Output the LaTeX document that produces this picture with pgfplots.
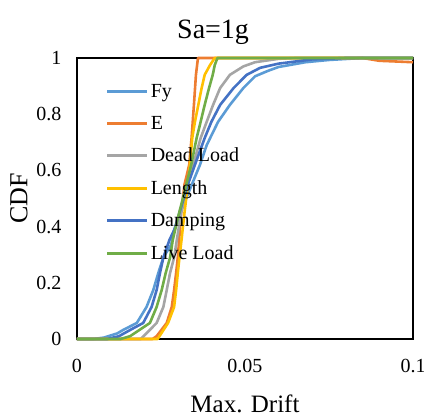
\documentclass[border=0pt]{standalone}
\usepackage{fontspec}
\setmainfont{Liberation Serif}
\usepackage{pgfplots}
\pgfplotsset{compat=1.18}
\definecolor{cFy}{HTML}{5B9BD5}
\definecolor{cE}{HTML}{ED7D31}
\definecolor{cDL}{HTML}{A5A5A5}
\definecolor{cLen}{HTML}{FFC000}
\definecolor{cDamp}{HTML}{4472C4}
\definecolor{cLL}{HTML}{70AD47}
\begin{document}
\begin{tikzpicture}
\begin{axis}[
  scale only axis,
  width=336pt, height=281pt,
  xmin=0, xmax=0.1, ymin=0, ymax=1,
  xtick={0,0.05,0.1}, xticklabels={0,0.05,0.1},
  ytick={0,0.2,0.4,0.6,0.8,1}, yticklabels={0,0.2,0.4,0.6,0.8,1},
  /pgf/number format/assume math mode=true,
  major tick length=0pt,
  axis line style={black, line width=1.2pt},
  tick label style={font=\fontsize{20}{22}\selectfont},
  xticklabel style={yshift=-17pt},
  yticklabel style={xshift=-12pt},
  title={Sa=1g},
  title style={font=\fontsize{28}{30}\selectfont, at={(axis description cs:0.405,1)}, anchor=south, yshift=4pt},
  xlabel={Max. Drift},
  xlabel style={font=\fontsize{25}{27}\selectfont, yshift=-15pt},
  ylabel={CDF},
  ylabel style={font=\fontsize{26}{28}\selectfont, yshift=2pt},
  legend style={draw=none, fill=none, at={(axis description cs:0.085,0.915)}, anchor=north west,
    font=\fontsize{20}{22}\selectfont, row sep=13.4pt, inner sep=0pt,
    /tikz/every even column/.append style={column sep=6pt}},
  legend cell align=left,
  legend image code/.code={\draw[#1, line width=3pt] (0pt,0pt) -- (40pt,0pt);},
  every axis plot/.append style={line width=2.6pt, line join=round},
  clip=false,
]
\addplot[cFy] coordinates {(0,0) (0.005,0) (0.008,0.005) (0.012,0.02) (0.0137,0.032) (0.0178,0.057) (0.0207,0.114) (0.0227,0.174) (0.0242,0.235) (0.0257,0.29) (0.028,0.335) (0.029,0.39) (0.0315,0.47) (0.0335,0.53) (0.0366,0.62) (0.0386,0.69) (0.042,0.773) (0.0455,0.833) (0.0495,0.893) (0.053,0.935) (0.057,0.955) (0.060,0.968) (0.068,0.985) (0.075,0.993) (0.085,1) (0.1,1)};
\addlegendentry{Fy}
\addplot[cE] coordinates {(0,0) (0.0225,0) (0.0237,0.01) (0.0267,0.057) (0.0282,0.114) (0.0289,0.174) (0.0295,0.235) (0.030,0.29) (0.0304,0.352) (0.031,0.45) (0.032,0.55) (0.0334,0.62) (0.0341,0.715) (0.0348,0.833) (0.0354,0.94) (0.036,1) (0.085,1) (0.09,0.99) (0.1,0.985)};
\addlegendentry{E}
\addplot[cDL] coordinates {(0,0) (0.019,0) (0.0237,0.057) (0.0257,0.114) (0.0267,0.174) (0.0277,0.235) (0.0289,0.29) (0.0297,0.352) (0.031,0.45) (0.0325,0.53) (0.0346,0.62) (0.0368,0.715) (0.0386,0.773) (0.0405,0.833) (0.0426,0.893) (0.0455,0.94) (0.0495,0.97) (0.053,0.985) (0.06,0.997) (0.065,1) (0.1,1)};
\addlegendentry{Dead Load}
\addplot[cLen] coordinates {(0,0) (0.024,0) (0.0271,0.057) (0.0289,0.114) (0.0295,0.174) (0.030,0.235) (0.0305,0.29) (0.0311,0.352) (0.032,0.45) (0.033,0.55) (0.0336,0.62) (0.0343,0.715) (0.0351,0.773) (0.0361,0.833) (0.0371,0.893) (0.038,0.94) (0.0396,0.975) (0.041,1) (0.1,1)};
\addlegendentry{Length}
\addplot[cDamp] coordinates {(0,0) (0.009,0) (0.0125,0.01) (0.0158,0.032) (0.0197,0.057) (0.0222,0.114) (0.0237,0.174) (0.0247,0.235) (0.0257,0.29) (0.0275,0.352) (0.029,0.39) (0.031,0.47) (0.033,0.55) (0.0351,0.62) (0.038,0.715) (0.040,0.773) (0.0426,0.833) (0.0466,0.893) (0.0505,0.94) (0.0545,0.965) (0.060,0.98) (0.070,0.995) (0.08,1) (0.1,1)};
\addlegendentry{Damping}
\addplot[cLL] coordinates {(0,0) (0.013,0) (0.0158,0.01) (0.0217,0.057) (0.0237,0.114) (0.0252,0.174) (0.0264,0.235) (0.0277,0.29) (0.0285,0.352) (0.030,0.43) (0.0315,0.50) (0.034,0.62) (0.0356,0.715) (0.0368,0.773) (0.038,0.833) (0.0393,0.893) (0.0404,0.94) (0.041,0.975) (0.0418,1) (0.1,1)};
\addlegendentry{Live Load}
\end{axis}
\pgfresetboundingbox
\useasboundingbox ([xshift=-77pt,yshift=-78pt]current axis.south west) rectangle ([xshift=11pt,yshift=58pt]current axis.north east);
\end{tikzpicture}
\end{document}
